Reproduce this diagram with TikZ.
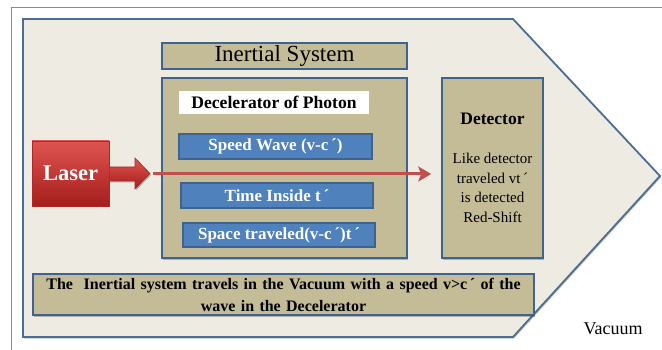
\documentclass[tikz,border=0pt]{standalone}
\usepackage{fontspec}
\setmainfont{Liberation Serif}
\usetikzlibrary{shadows,arrows.meta}
\definecolor{pagebg}{HTML}{FFFFFF}
\definecolor{hullfill}{HTML}{EEEBE2}
\definecolor{hullline}{HTML}{4A6E96}
\definecolor{tan}{HTML}{C4BB97}
\definecolor{boxline}{HTML}{3F628E}
\definecolor{wavefill}{HTML}{4F81BD}
\definecolor{beam}{HTML}{C0504D}
\definecolor{framegray}{HTML}{8C8C8C}
\tikzset{
  softshadow/.style={drop shadow={shadow xshift=1pt,shadow yshift=-1.5pt,opacity=0.25,fill=black}},
  tanbox/.style={draw=boxline,line width=1.6pt,fill=tan,inner sep=0pt,softshadow},
  wavebox/.style={draw=boxline,line width=1.2pt,fill=wavefill,inner sep=0pt,text=white,
    font=\fontsize{17}{19}\selectfont\bfseries,softshadow},
  lasershade/.style={top color={rgb,255:red,222;green,84;blue,80},bottom color={rgb,255:red,165;green,30;blue,28},
    shading angle=0,draw={rgb,255:red,175;green,40;blue,36},line width=0.6pt}
}
\begin{document}
\begin{tikzpicture}[x=1pt,y=-1pt]
  \useasboundingbox (0,0) rectangle (662,350);
  \fill[pagebg] (0,0) rectangle (662,350);
  % page frame
  \draw[framegray,line width=0.8pt] (11,350) -- (11,7) -- (662,7);
  % vacuum hull (pentagon)
  \draw[hullline,line width=1.8pt,fill=hullfill,softshadow]
    (23,19) -- (513,19) -- (660,176) -- (513,337) -- (23,337) -- cycle;

  % inertial system
  \node[tanbox,minimum width=245pt,minimum height=26pt,font=\fontsize{23}{25}\selectfont]
    (inertial) at (284.5,56) {Inertial System};
  \node[tanbox,minimum width=245pt,minimum height=180pt] (decel) at (284.5,168) {};
  \node[fill=white,inner sep=0pt,minimum width=190pt,minimum height=23pt,
        font=\fontsize{17.6}{19}\selectfont\bfseries] (title) at (274,102.5) {Decelerator of Photon};
  \node[wavebox,minimum width=193pt,minimum height=25pt] (speed) at (275.5,146.5) {Speed Wave (v-c\,´)};
  \node[wavebox,minimum width=192pt,minimum height=25pt] (time) at (277,195.5) {Time Inside t\,´};
  \node[wavebox,minimum width=192pt,minimum height=24pt] (space) at (279,235) {Space traveled(v-c\,´)t\,´};

  % detector
  \node[tanbox,minimum width=101pt,minimum height=180pt,align=center,
        font=\fontsize{15}{19.7}\selectfont] (detector) at (492.5,168)
    {{\fontsize{17.5}{19}\selectfont\bfseries Detector}\\[19pt]
     Like detector\\traveled vt\,´\\is detected\\Red-Shift};

  % note on the moving system
  \node[tanbox,minimum width=501pt,minimum height=41pt,text width=490pt,align=center,
        font=\fontsize{16}{22}\selectfont\bfseries] (note) at (283.5,294.5)
    {The\ \ Inertial system travels in the Vacuum with a speed v>c\,´ of the\\wave in the Decelerator};

  \node[font=\fontsize{18}{20}\selectfont,inner sep=0pt] (vacuum) at (613,329) {Vacuum};

  % laser source with its outlet arrow
  \node[lasershade,minimum width=77pt,minimum height=65pt,inner sep=0pt,
        font=\fontsize{22.5}{24}\selectfont\bfseries,text=white,softshadow] (laser) at (70.5,173.5) {Laser};
  \draw[lasershade,softshadow]
    (laser.east |- 0,167) -- (135,167) -- (135,158) -- (150,173.5) -- (135,189) -- (135,181)
    -- (laser.east |- 0,181) -- cycle;
  \coordinate (outlet) at (153,174);

  % photon beam
  \draw[beam,line width=3pt,-{Stealth[length=13pt,width=15pt,inset=3pt]},shorten >=10pt]
    (outlet) -- (outlet -| detector.west);
\end{tikzpicture}
\end{document}
